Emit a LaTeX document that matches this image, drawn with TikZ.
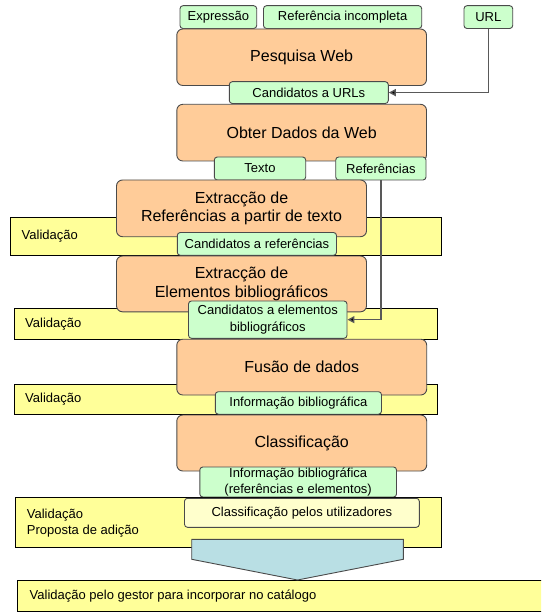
\documentclass[tikz,border=0pt]{standalone}
\usepackage{fontspec}
\setmainfont{Liberation Sans}
\usetikzlibrary{arrows.meta}
\definecolor{laranja}{HTML}{FFCC99}
\definecolor{verde}{HTML}{CCFFCC}
\definecolor{amarelo}{HTML}{FFFF99}
\definecolor{creme}{HTML}{FFFFCC}
\definecolor{azul}{HTML}{B9DFE4}
\definecolor{cinza}{HTML}{4A4A4A}
\begin{document}
\begin{tikzpicture}[x=1pt,y=-1pt,
    tam/.style n args={2}{minimum width=#1pt,minimum height=#2pt},
    passo/.style={draw=cinza,line width=0.9pt,fill=laranja,rounded corners=6pt,inner sep=0pt,align=center,font=\fontsize{16}{18.4}\selectfont},
    dado/.style={draw=cinza,line width=0.9pt,fill=verde,rounded corners=3pt,inner sep=0pt,align=center,font=\fontsize{13}{16.5}\selectfont},
    faixa/.style={draw=black,line width=0.8pt,fill=amarelo,inner sep=0pt},
    rotulo/.style={anchor=west,inner sep=0pt,align=left,font=\fontsize{13}{16}\selectfont},
    liga/.style={draw=black!65,line width=1.4pt,-{Triangle[length=7pt,width=7pt,fill=black]}}]
  \useasboundingbox (0,0) rectangle (541,612);
  \clip (0,0) rectangle (541,612);
  \path
    (226.05,236.5) node[faixa,tam={431.3}{37.6}] (f1) {}
    (225.85,323.65) node[faixa,tam={423.7}{30.7}] (f2) {}
    (225.85,399.15) node[faixa,tam={423.7}{30.3}] (f3) {}
    (288.65,595.6) node[faixa,tam={542.7}{31.2}] (f5) {}
    (21.5,236.5) node[rotulo] (v1) {Validação}
    (25,324) node[rotulo] (v2) {Validação}
    (25,399.3) node[rotulo] (v3) {Validação}
    (29.5,596.5) node[rotulo] (v5) {Validação pelo gestor para incorporar no catálogo}
    (218.35,17.1) node[dado,tam={76.7}{22.8}] (expr) {Expressão}
    (342.6,17.1) node[dado,tam={158.2}{22.8}] (refinc) {Referência incompleta}
    (488.35,17.1) node[dado,tam={48.7}{22.8}] (url) {URL}
    (301.65,57.25) node[passo,tam={249.7}{56.5}] (pesq) {Pesquisa Web}
    (308.8,92.6) node[dado,tam={159}{21.8}] (urls) {Candidatos a URLs}
    (301.65,132.65) node[passo,tam={249.7}{56.7}] (obter) {Obter Dados da Web}
    (260,168.5) node[dado,tam={91.4}{23}] (texto) {Texto}
    (380.85,168.5) node[dado,tam={90.3}{23}] (refs) {Referências}
    (241.5,208.35) node[passo,tam={250}{56.7}] (exref) {Extracção de\\Referências a partir de texto}
    (256.9,243.9) node[dado,tam={159.2}{22.8}] (cref) {Candidatos a referências}
    (241.5,283.9) node[passo,tam={250}{55.8}] (exelem) {Extracção de\\Elementos bibliográficos}
    (267.75,319.65) node[dado,tam={158.5}{37.3}] (celem) {Candidatos a elementos\\bibliográficos}
    (301.75,367.1) node[passo,tam={249.9}{55.8}] (fusao) {Fusão de dados}
    (298.4,402.95) node[dado,tam={166.2}{22.5}] (info) {Informação bibliográfica}
    (301.75,443) node[passo,tam={249.9}{56}] (classif) {Classificação}
    (298.15,482) node[dado,tam={196.7}{30}] (info2) {Informação bibliográfica\\(referências e elementos)}
    (228.35,522.4) node[faixa,tam={426.7}{50.2}] (f4) {}
    (26.7,523.4) node[rotulo] (v4) {Validação\\Proposta de adição}
    (301.9,512.8) node[dado,fill=creme,tam={234.8}{29}] (utiliz) {Classificação pelos utilizadores};
  \draw[draw=cinza,line width=0.9pt,fill=azul]
    (191.7,539.3) -- (403.3,539.3) -- (403.3,559.3) -- (297.5,580) -- (191.7,559.3) -- cycle;
  \begin{scope}[liga]
    \draw (url) |- (urls);
    \draw (refs) |- (celem);
  \end{scope}
\end{tikzpicture}
\end{document}
